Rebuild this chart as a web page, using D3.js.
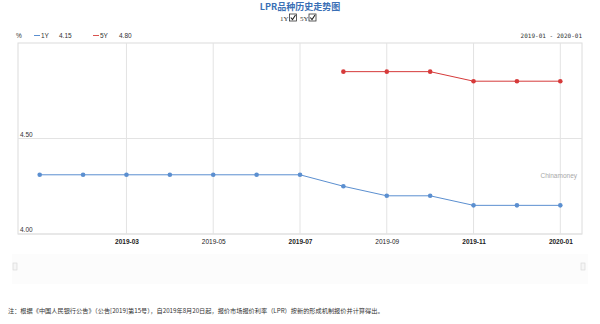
<!DOCTYPE html>
<html><head><meta charset="utf-8">
<script src="https://cdn.jsdelivr.net/npm/d3@7"></script>
<style>body{margin:0;background:#fff;}svg{display:block;font-family:"Liberation Sans",Arial,sans-serif;}</style>
</head><body>
<svg id="c" width="600" height="324"></svg>
<script>
const months = ["2019-01","2019-02","2019-03","2019-04","2019-05","2019-06","2019-07","2019-08","2019-09","2019-10","2019-11","2019-12","2020-01"];
const lpr1Y = [4.31,4.31,4.31,4.31,4.31,4.31,4.31,4.25,4.20,4.20,4.15,4.15,4.15];
const lpr5Y = [null,null,null,null,null,null,null,4.85,4.85,4.85,4.80,4.80,4.80];
const tickLabels = ["2019-03","2019-05","2019-07","2019-09","2019-11","2020-01"];
const boldTicks = ["2019-03","2019-07","2019-11","2020-01"];
const yTicks = [4.00,4.50];

const svg = d3.select("#c");
const L=18,R=582,T=43,B=234;
const x = d3.scalePoint().domain(months).range([L,R]).padding(0.5);
const y = d3.scaleLinear().domain([4.0,5.0]).range([B,T]);

// title
svg.append("text").attr("x",300).attr("y",10).attr("text-anchor","middle")
  .attr("font-family","'Noto Sans CJK SC',sans-serif").attr("font-size",9).attr("font-weight","bold")
  .attr("fill","#3a6fb5").text("LPR品种历史走势图");
const cb = svg.append("g").attr("font-family","'Liberation Serif',serif").attr("font-size",7).attr("fill","#333");
cb.append("text").attr("x",280).attr("y",21).text("1Y");
cb.append("text").attr("x",300).attr("y",21).text("5Y");
[289.5,309].forEach(px=>{
  cb.append("rect").attr("x",px).attr("y",14).attr("width",7).attr("height",7).attr("fill","#fff").attr("stroke","#333").attr("stroke-width",0.8);
  cb.append("path").attr("d",`M${px+1.3},${17.5} L${px+3},${19.5} L${px+6},${15}`).attr("fill","none").attr("stroke","#222").attr("stroke-width",1.1);
});

// legend row
const lg = svg.append("g").attr("font-size",6.5).attr("fill","#333");
lg.append("text").attr("x",16).attr("y",38).text("%");
lg.append("line").attr("x1",34).attr("x2",40).attr("y1",35.5).attr("y2",35.5).attr("stroke","#5b8fd0");
lg.append("text").attr("x",41).attr("y",38).text("1Y");
lg.append("text").attr("x",59).attr("y",38).text(lpr1Y[lpr1Y.length-1].toFixed(2));
lg.append("line").attr("x1",93).attr("x2",99).attr("y1",35.5).attr("y2",35.5).attr("stroke","#d9534f");
lg.append("text").attr("x",100).attr("y",38).text("5Y");
lg.append("text").attr("x",119).attr("y",38).text(lpr5Y[lpr5Y.length-1].toFixed(2));
lg.append("text").attr("x",582).attr("y",38).attr("text-anchor","end").attr("font-family","'DejaVu Sans Mono',monospace").attr("font-size",6).text(months[0]+" - "+months[months.length-1]);

// plot frame
svg.append("rect").attr("x",L).attr("y",T).attr("width",R-L).attr("height",B-T).attr("fill","none").attr("stroke","#dcdcdc").attr("stroke-width",1);

// vertical grid
svg.append("g").selectAll("line").data(tickLabels).join("line")
  .attr("x1",d=>x(d)).attr("x2",d=>x(d)).attr("y1",T).attr("y2",B).attr("stroke","#e3e3e3").attr("stroke-width",1);
// horizontal grid
svg.append("g").selectAll("line").data(yTicks).join("line")
  .attr("x1",L).attr("x2",R).attr("y1",d=>y(d)).attr("y2",d=>y(d)).attr("stroke","#e3e3e3").attr("stroke-width",1);
svg.append("g").selectAll("text").data(yTicks).join("text")
  .attr("x",L+2).attr("y",d=>y(d)-2).attr("font-size",6.5).attr("fill","#333").text(d=>d.toFixed(2));

// x labels
const xAxis = d3.axisBottom(x).tickValues(tickLabels).tickSize(0).tickPadding(5);
const gx = svg.append("g").attr("transform",`translate(0,${B})`).call(xAxis);
gx.select(".domain").remove();
gx.selectAll("text").attr("font-size",6.5).attr("fill","#222")
  .attr("font-weight",d=>boldTicks.includes(d)?"bold":"normal");

// watermark
svg.append("text").attr("x",577).attr("y",178).attr("text-anchor","end").attr("font-size",6.5).attr("fill","#a8a8a8").text("Chinamoney");

// series
function drawSeries(vals,color){
  const data = months.map((m,i)=>({m,v:vals[i]}));
  const line = d3.line().defined(d=>d.v!=null).x(d=>x(d.m)).y(d=>y(d.v));
  svg.append("path").datum(data).attr("d",line).attr("fill","none").attr("stroke",color).attr("stroke-width",1);
  svg.append("g").selectAll("circle").data(data.filter(d=>d.v!=null)).join("circle")
    .attr("cx",d=>x(d.m)).attr("cy",d=>y(d.v)).attr("r",2.3).attr("fill",color);
}
drawSeries(lpr1Y,"#5b8fd0");
drawSeries(lpr5Y,"#d63a3a");

// navigator
svg.append("rect").attr("x",12).attr("y",254).attr("width",576).attr("height",30).attr("fill","#fcfcfc");
[[15,263],[583,263]].forEach(([hx,hy])=>{
  svg.append("rect").attr("x",hx-2).attr("y",hy).attr("width",4).attr("height",7).attr("fill","#f6f6f6").attr("stroke","#d4d4d4").attr("stroke-width",0.6);
});

// footnote
svg.append("text").attr("x",8).attr("y",313).attr("font-family","'Noto Sans CJK SC',sans-serif").attr("font-size",6.2).attr("fill","#333")
  .text("注：根据《中国人民银行公告》（公告[2019]第15号），自2019年8月20日起，报价市场报价利率（LPR）按新的形成机制报价并计算得出。");
</script>
</body></html>
